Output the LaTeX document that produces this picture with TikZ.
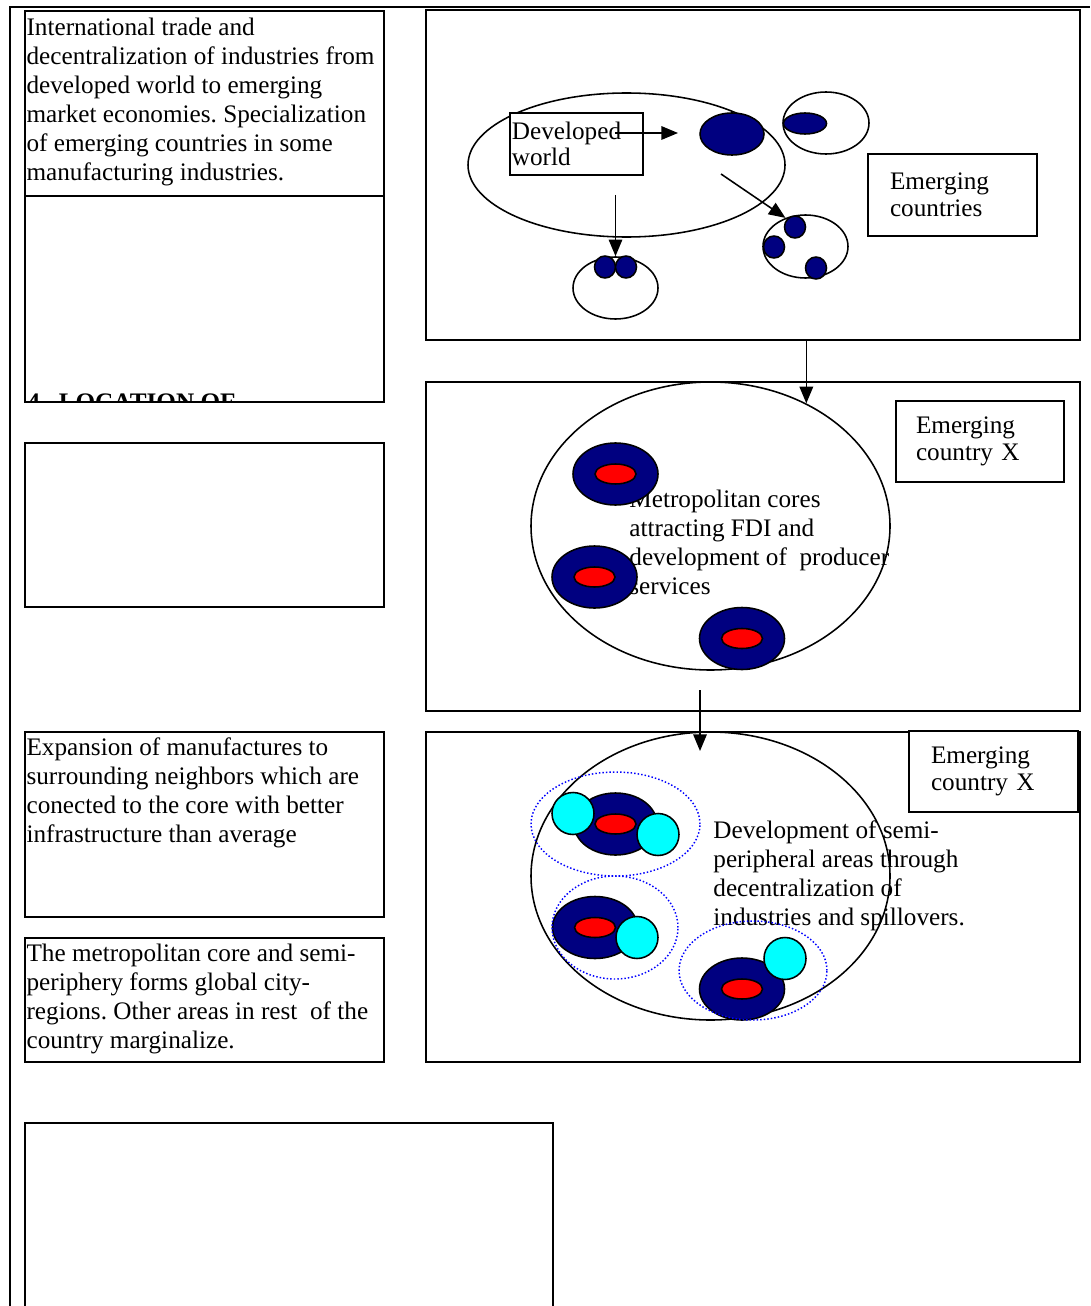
\documentclass[tikz,border=0pt]{standalone}
\usepackage{fontspec}
\setmainfont{Liberation Serif}
\usetikzlibrary{
  positioning,
  shapes.geometric,
  arrows.meta,
  fit
}
\frenchspacing
\definecolor{hubNavy}{HTML}{000080}
\definecolor{coreRed}{HTML}{FF0000}
\definecolor{spillCyan}{HTML}{00FFFF}
\definecolor{zoneBlue}{HTML}{0000FF}
\newcommand{\pxu}{0.48pt}
\newcommand{\bodyfont}{\fontsize{12.1pt}{13.92pt}\selectfont}
\newcommand{\labelfont}{\fontsize{12.1pt}{13.2pt}\selectfont}
\tikzset{
  frameLine/.style={line width=1.4pt},
  panelBox/.style={draw, line width=0.9pt, inner sep=0pt},
  noteBox/.style={draw, line width=0.8pt, inner sep=0pt},
  noteText/.style={inner sep=0pt, align=left, font=\bodyfont},
  labelBox/.style={
    draw, fill=white, line width=0.8pt, inner ysep=0pt,
    align=left, font=\labelfont
  },
  ovalSize/.style 2 args={
    ellipse, inner sep=0pt, minimum width=#1*\pxu, minimum height=#2*\pxu
  },
  ringLine/.style={draw, line width=0.75pt},
  hubNode/.style={draw, line width=0.75pt, fill=hubNavy},
  coreNode/.style={draw, line width=0.75pt, fill=coreRed, ovalSize={41}{20}},
  spillNode/.style={draw, line width=0.75pt, fill=spillCyan, ovalSize={42}{42}},
  zoneRing/.style={draw=zoneBlue, densely dotted, line width=0.7pt},
  flowArrow/.style={-{Triangle[length=8pt,width=6.5pt]}, line width=0.75pt}
}

\begin{document}
\begin{tikzpicture}[x=0.48pt, y=-0.48pt]
\clip (0,0) rectangle (1090,1306);

% ── page frame ─────────────────────────────────────────────────────
\draw[frameLine] (10,1306) -- (10,7) -- (1090,7);

% ── LEFT COLUMN: notes ─────────────────────────────────────────────
\node[noteBox, fit={(25,11)(384,196)}]    (noteA) {};
\node[noteBox, fit={(25,196)(384,402)}]   (noteB) {};
\node[noteBox, fit={(25,443)(384,607)}]   (noteC) {};
\node[noteBox, fit={(25,732)(384,917)}]   (noteD) {};
\node[noteBox, fit={(25,938)(384,1062)}]  (noteE) {};
\node[noteBox, fit={(25,1123)(553,1340)}] (noteF) {};

\node[noteText, below right=3.36pt and 0.96pt of noteA.north west] (textA)
  {International trade and\\
   decentralization of industries from\\
   developed world to emerging\\
   market economies. Specialization\\
   of emerging countries in some\\
   manufacturing industries.};

\begin{scope}
  \clip (noteB.north west) rectangle (noteB.south east);
  \node[noteText, font=\bodyfont\bfseries, anchor=north west] (locHead)
    at (27,393) {4.\hspace{6pt}LOCATION OF};
\end{scope}

\node[noteText, below right=2.88pt and 0.96pt of noteD.north west] (textD)
  {Expansion of manufactures to\\
   surrounding neighbors which are\\
   conected to the core with better\\
   infrastructure than average};

\node[noteText, below right=2.88pt and 0.96pt of noteE.north west] (textE)
  {The metropolitan core and semi-\\
   periphery forms global city-\\
   regions. Other areas in rest\ \ of the\\
   country marginalize.};

% ── PANEL 1: developed world ───────────────────────────────────────
\node[panelBox, fit={(426,10)(1080,340)}] (panelWorld) {};

\node[ringLine, ovalSize={317}{144}] (devWorld) at (626.5,165) {};
\node[labelBox, text width=62pt, inner xsep=0.8pt, minimum height=29.76pt,
      font=\fontsize{12.1pt}{12.5pt}\selectfont] (devLabel) at (576.5,144)
  {Developed\\world};
\node[hubNode, ovalSize={64}{42}] (devHub) at (732,134) {};

\node[ringLine, ovalSize={86}{62}] (ringNE) at (826,123) {};
\node[hubNode, ovalSize={43}{21}] (hubNE) at (805,123.5) {};

\node[ringLine, ovalSize={85}{63}] (ringSE) at (805.5,246.5) {};
\node[hubNode, ovalSize={21}{22}] (dotSE1) at (795,227) {};
\node[hubNode, ovalSize={21}{22}] (dotSE2) at (774,247) {};
\node[hubNode, ovalSize={21}{22}] (dotSE3) at (816,268) {};

\node[ringLine, ovalSize={85}{62}] (ringS) at (615.5,288) {};
\node[hubNode, ovalSize={21}{22}] (dotS1) at (605,267) {};
\node[hubNode, ovalSize={21}{22}] (dotS2) at (626,267) {};

\node[labelBox, text width=60pt, inner xsep=10.56pt, minimum height=39.36pt]
  (emergLabel) at (952.5,195) {Emerging\\countries};

\coordinate (hubStart)  at (615,133);
\coordinate (hubEnd)    at (678,133);
\coordinate (diagStart) at (721,174);
\coordinate (downStart) at (615.5,195);

\draw[flowArrow] (hubStart) -- (hubEnd);
\draw[flowArrow] (diagStart) -- (ringSE.125);
\draw[flowArrow] (downStart) -- (ringS.north);

% ── PANEL 2: metropolitan cores ────────────────────────────────────
\node[panelBox, fit={(426,382)(1080,711)}] (panelCore) {};

\node[noteText, anchor=north west] (metroText) at (629,490)
  {Metropolitan cores\\
   attracting FDI and\\
   development of\ \ producer\\
   services};

\node[ringLine, ovalSize={359}{288}] (coreRegion) at (710.5,526) {};

\node[hubNode, ovalSize={85}{62}] (hubA) at (615.5,474) {};
\node[coreNode] (redA) at (hubA) {};
\node[hubNode, ovalSize={85}{62}] (hubB) at (594.5,577) {};
\node[coreNode] (redB) at (hubB) {};
\node[hubNode, ovalSize={85}{62}] (hubC) at (742,638.5) {};
\node[coreNode] (redC) at (hubC) {};

\node[labelBox, text width=61.44pt, inner xsep=9.6pt, minimum height=38.88pt]
  (countryA) at (980,441.5) {Emerging\\country X};

% ── PANEL 3: semi-periphery ────────────────────────────────────────
\node[panelBox, fit={(426,732)(1080,1062)}] (panelSemi) {};

\node[noteText, anchor=north west] (semiText) at (713,820)
  {Development of semi-\\
   peripheral areas through\\
   decentralization of\\
   industries and spillovers.};

\node[ringLine, ovalSize={359}{288}] (semiRegion) at (710.5,876) {};

\node[hubNode, ovalSize={83}{62}] (hubD) at (615.5,824) {};
\node[coreNode] (redD) at (hubD) {};
\node[spillNode] (spillD1) at (573,813.5) {};
\node[spillNode] (spillD2) at (658,834.5) {};

\node[hubNode, ovalSize={85}{62}] (hubE) at (595,927.5) {};
\node[coreNode] (redE) at (hubE) {};
\node[spillNode] (spillE) at (637,937.5) {};

\node[hubNode, ovalSize={85}{62}] (hubF) at (742,989) {};
\node[coreNode] (redF) at (hubF) {};
\node[spillNode] (spillF) at (785,958.5) {};

\node[zoneRing, ovalSize={169}{104}] (zoneD) at (615.5,824) {};
\node[zoneRing, ovalSize={126}{103}] (zoneE) at (615,927.5) {};
\node[zoneRing, ovalSize={148}{99}]  (zoneF) at (753,970.5) {};

\node[labelBox, text width=60pt, inner xsep=10.56pt, minimum height=38.88pt]
  (countryB) at (993.5,771.5) {Emerging\\country X};

% ── EDGES between panels ───────────────────────────────────────────
\draw[flowArrow] (panelWorld.south -| coreRegion.52) -- (coreRegion.52);

\coordinate (spillStart) at (700,690);
\coordinate (spillEnd)   at (700,751);
\draw[flowArrow] (spillStart) -- (spillEnd);

\end{tikzpicture}
\end{document}
